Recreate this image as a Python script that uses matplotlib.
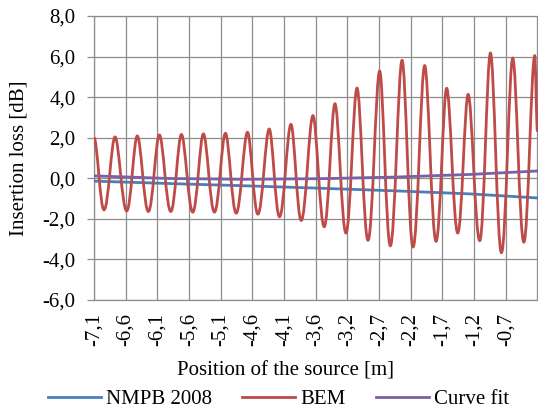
import numpy as np
import matplotlib
matplotlib.use("Agg")
import matplotlib.pyplot as plt
from matplotlib.path import Path
from matplotlib.patches import PathPatch

plt.rcParams['font.family'] = ['Liberation Serif', 'DejaVu Serif']

# x positions of source (m); category labels as displayed
x_labels = ['-7,1', '-6,6', '-6,1', '-5,6', '-5,1', '-4,6', '-4,1',
            '-3,6', '-3,2', '-2,7', '-2,2', '-1,7', '-1,2', '-0,7', '']
x_min, x_max = -7.1, -0.2

# NMPB 2008 (nearly straight line)
nmpb_x = [-7.1, -5.916, -4.748, -3.580, -2.412, -1.243, -0.2]
nmpb_y = [-0.14, -0.26, -0.37, -0.49, -0.62, -0.77, -0.97]

# Curve fit
fit_x = [-7.1, -5.916, -4.748, -3.580, -2.412, -1.243, -0.2]
fit_y = [0.12, -0.01, -0.05, -0.02, 0.06, 0.19, 0.36]

# BEM: successive turning points (start, trough, peak, trough, ..., end)
bem_x = [-7.100,
         -6.944, -6.773, -6.591, -6.426, -6.254, -6.083, -5.905, -5.740,
         -5.563, -5.398, -5.226, -5.055, -4.888, -4.712, -4.550, -4.374,
         -4.214, -4.036, -3.876, -3.694, -3.518, -3.351, -3.180, -3.008,
         -2.837, -2.656, -2.490, -2.307, -2.136, -1.955, -1.778, -1.613,
         -1.441, -1.279, -1.099, -0.932, -0.761, -0.585, -0.413, -0.242,
         -0.200]
bem_y = [2.00,
         -1.56, 2.04, -1.61, 2.09, -1.64, 2.14, -1.64, 2.16,
         -1.67, 2.19, -1.67, 2.22, -1.72, 2.27, -1.77, 2.43,
         -1.90, 2.66, -2.08, 3.09, -2.39, 3.68, -2.70, 4.45,
         -3.06, 5.29, -3.33, 5.82, -3.39, 5.56, -3.11, 4.44,
         -2.70, 4.14, -3.08, 6.18, -3.67, 5.93, -3.15, 6.05,
         2.30]

c_blue = '#4a7ebb'
c_red = '#be4b48'
c_purple = '#7d60a0'
c_grid = '#8c8c8c'


def smooth_path(xs, ys):
    # cubic segments with flat tangents at each turning point
    verts = [(xs[0], ys[0])]
    codes = [Path.MOVETO]
    for i in range(len(xs) - 1):
        x0, y0, x1, y1 = xs[i], ys[i], xs[i + 1], ys[i + 1]
        d = x1 - x0
        k0 = 0.33 if y0 > y1 else 0.40
        k1 = 0.33 if y1 > y0 else 0.40
        verts += [(x0 + k0 * d, y0), (x1 - k1 * d, y1), (x1, y1)]
        codes += [Path.CURVE4] * 3
    return Path(verts, codes)


fig = plt.figure(figsize=(5.38, 4.11), dpi=100)
ax = fig.add_axes([94 / 538, 1 - 300 / 411, 443.5 / 538, 284 / 411])

lw = 2.0
ax.plot(nmpb_x, nmpb_y, color=c_blue, lw=lw, label='NMPB 2008', zorder=3)
ax.add_patch(PathPatch(smooth_path(bem_x, bem_y), fill=False, edgecolor=c_red,
                       lw=lw, joinstyle='round', zorder=4))
ax.plot([], [], color=c_red, lw=lw, label='BEM')
ax.plot(fit_x, fit_y, color=c_purple, lw=lw, label='Curve fit', zorder=5)

ax.set_xlim(x_min, x_max)
ax.set_ylim(-6, 8)

ax.set_xticks(np.linspace(x_min, x_max, len(x_labels)))
ax.set_xticklabels(x_labels, rotation=90, fontsize=15)
yt = np.arange(-6, 9, 2)
ax.set_yticks(yt)
ax.set_yticklabels([f'{v:.1f}'.replace('.', ',') for v in yt], fontsize=15)

ax.grid(True, color=c_grid, lw=0.9)
ax.set_axisbelow(True)
for s in ax.spines.values():
    s.set_color(c_grid)
    s.set_linewidth(0.9)
ax.tick_params(axis='y', length=4.8, width=0.9, color=c_grid, pad=8.6)
ax.tick_params(axis='x', length=0, pad=9.4)

ax.set_xlabel('Position of the source [m]', fontsize=15)
ax.xaxis.set_label_coords(0.431, -0.215)
ax.set_ylabel('Insertion loss [dB]', fontsize=15)
ax.yaxis.set_label_coords(-0.147, 0.5)

fig.legend(loc='center', bbox_to_anchor=(0.518, 1 - 399 / 411), ncol=3,
           frameon=False, fontsize=15, handlelength=2.55, handletextpad=0.25,
           columnspacing=1.44, borderpad=0, borderaxespad=0)

fig.savefig('out.png', dpi=100)
